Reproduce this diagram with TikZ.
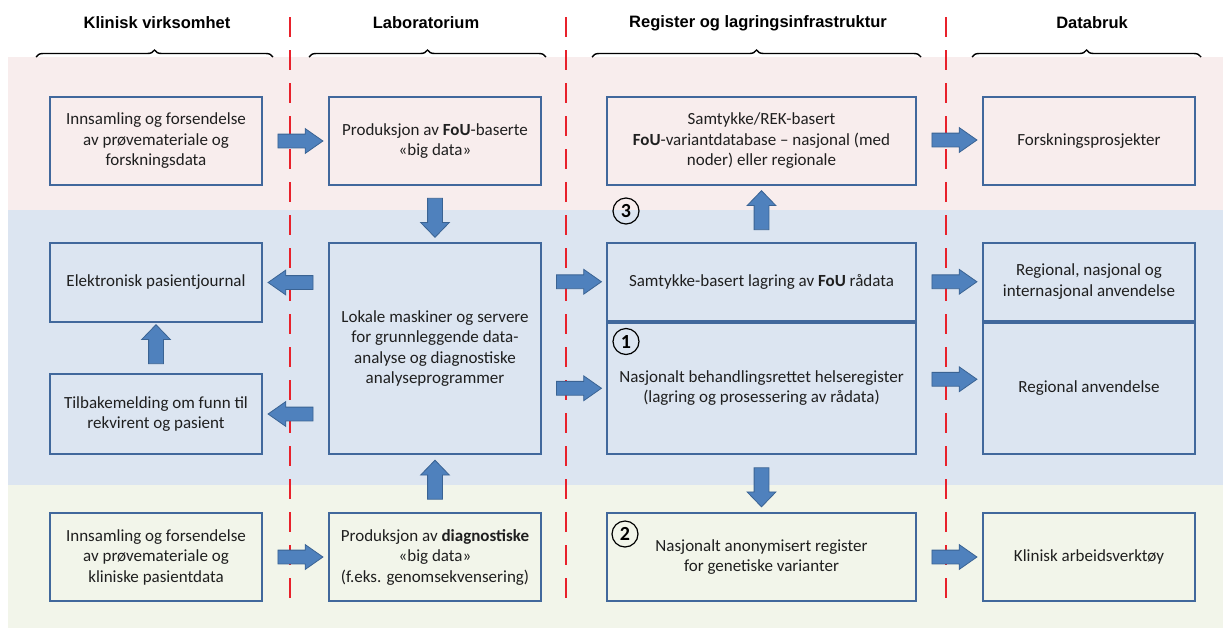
\documentclass[tikz,border=0pt]{standalone}
\usepackage{fontspec}
\setmainfont{Carlito}
\newfontfamily\headfont{Liberation Sans}
\usetikzlibrary{shapes.arrows,decorations.pathreplacing,calc}
\definecolor{pinkbg}{HTML}{F8EDED}
\definecolor{bluebg}{HTML}{DCE5F1}
\definecolor{greenbg}{HTML}{F2F5EA}
\definecolor{boxline}{HTML}{41689C}
\definecolor{arrowfill}{HTML}{4F81BD}
\definecolor{arrowline}{HTML}{3A6393}
\definecolor{dashred}{HTML}{E8212B}
\tikzset{
  box/.style={draw=boxline, line width=2pt, align=center, inner sep=0pt,
    font=\fontsize{17}{20.5}\selectfont, text=black!88},
  wbox/.style={box, minimum width=212pt},
  cbox/.style={box, minimum width=309pt},
  harrow/.style={single arrow, draw=arrowline, fill=arrowfill, line width=0.8pt,
    inner xsep=0pt, inner ysep=6.5pt, single arrow head extend=5.5pt,
    single arrow tip angle=70, minimum height=45pt},
  varrow/.style={single arrow, draw=arrowline, fill=arrowfill, line width=0.8pt,
    inner xsep=0pt, inner ysep=7pt, single arrow head extend=7pt,
    single arrow tip angle=88, minimum height=39pt},
  numcirc/.style={circle, draw=black, line width=1.2pt, inner sep=0pt,
    minimum size=26pt, font=\fontsize{20}{20}\selectfont\bfseries},
  head/.style={font=\headfont\bfseries\fontsize{16.5}{20}\selectfont},
  dashline/.style={draw=dashred, line width=2.6pt, dash pattern=on 20pt off 13pt},
  bracestyle/.style={draw=black, line width=1.4pt,
    decorate, decoration={brace, amplitude=7pt, aspect=0.5}}
}
\begin{document}
\begin{tikzpicture}[x=1pt, y=-1pt]
\useasboundingbox (0,0) rectangle (1223,630);
% bands
\fill[pinkbg] (8,57) rectangle (1223,210);
\fill[bluebg] (8,210) rectangle (1223,485);
\fill[greenbg] (8,485) rectangle (1223,628);
% dashed separators
\draw[dashline] (290,17) -- (290,603);
\draw[dashline] (566,17) -- (566,603);
\draw[dashline] (946,17) -- (946,603);
% headers
\node[head] (h1) at (157,23) {Klinisk virksomhet};
\node[head] (h2) at (426,23) {Laboratorium};
\node[head] (h3) at (758,23) {Register og lagringsinfrastruktur};
\node[head] (h4) at (1092,23) {Databruk};
% braces
\draw[bracestyle] (36,57) -- (273,57);
\draw[bracestyle] (309,57) -- (546,57);
\draw[bracestyle] (592,57) -- (921,57);
\draw[bracestyle] (972,57) -- (1201,57);
% row 1
\node[wbox, minimum height=88pt] (a1) at (156,141) {Innsamling og forsendelse\\av prøvemateriale og\\forskningsdata};
\node[wbox, minimum height=88pt] (b1) at (435,141) {Produksjon av \textbf{FoU}-baserte\\«big data»};
\node[cbox, minimum height=88pt] (c1) at (761.5,141) {Samtykke/REK-basert\\\textbf{FoU}-variantdatabase – nasjonal (med\\noder) eller regionale};
\node[wbox, minimum height=88pt] (d1) at (1089,141) {Forskningsprosjekter};
% row 2/3
\node[wbox, minimum height=79pt] (a2) at (156,282.5) {Elektronisk pasientjournal};
\node[wbox, minimum height=80pt] (a3) at (156,414) {Tilbakemelding om funn til\\rekvirent og pasient};
\node[wbox, minimum height=211pt] (b2) at (435,348.5) {Lokale maskiner og servere\\for grunnleggende data-\\analyse og diagnostiske\\analyseprogrammer};
\node[cbox, minimum height=77.5pt] (c2) at (761.5,281.75) {Samtykke-basert lagring av \textbf{FoU} rådata};
\node[cbox, minimum height=131.5pt] (c3) at (761.5,388.25) {Nasjonalt behandlingsrettet helseregister\\(lagring og prosessering av rådata)};
\node[wbox, minimum height=77.5pt] (d2) at (1089,281.75) {Regional, nasjonal og\\internasjonal anvendelse};
\node[wbox, minimum height=131.5pt] (d3) at (1089,388.25) {Regional anvendelse};
% row 4
\node[wbox, minimum height=88pt] (a4) at (156,557) {Innsamling og forsendelse\\av prøvemateriale og\\kliniske pasientdata};
\node[wbox, minimum height=88pt] (b4) at (435,557) {Produksjon av \textbf{diagnostiske}\\«big data»\\(f.eks. genomsekvensering)};
\node[cbox, minimum height=88pt] (c4) at (761.5,557) {Nasjonalt anonymisert register\\for genetiske varianter};
\node[wbox, minimum height=88pt] (d4) at (1089,557) {Klinisk arbeidsverktøy};
% numbers
\node[numcirc] (n3) at ($(c1.south west)+(20,25)$) {3};
\node[numcirc] (n1) at ($(c3.north west)+(20,20)$) {1};
\node[numcirc] (n2) at ($(c4.north west)+(19,22)$) {2};
% horizontal arrows
\node[harrow] (ar1) at ($(a1.east)!0.5!(b1.west)$) {};
\node[harrow, rotate=180] (ar2) at ($(a2.east)!0.5!(a2.east -| b2.west)$) {};
\node[harrow, rotate=180] (ar3) at ($(a3.east)!0.5!(a3.east -| b2.west)$) {};
\node[harrow] (ar4) at ($(a4.east)!0.5!(b4.west)$) {};
\node[harrow] (ar5) at ($(c2.west -| b2.east)!0.5!(c2.west)$) {};
\node[harrow] (ar6) at ($(c3.west -| b2.east)!0.5!(c3.west)$) {};
\node[harrow] (ar7) at ($(c1.east)!0.5!(d1.west)+(0,-1)$) {};
\node[harrow] (ar8) at ($(c2.east)!0.5!(d2.west)$) {};
\node[harrow] (ar9) at ($(c3.east)!0.5!(d3.west)+(0,-9)$) {};
\node[harrow] (ar10) at ($(c4.east)!0.5!(d4.west)$) {};
% vertical arrows
\node[varrow, rotate=90] (v1) at ($(a3.north)!0.5!(a2.south)$) {};
\node[varrow, rotate=-90] (v2) at ($(b1.south)!0.5!(b2.north)$) {};
\node[varrow, rotate=90] (v3) at ($(b4.north)!0.5!(b2.south)$) {};
\node[varrow, rotate=90] (v4) at ($(c2.north)!0.5!(c1.south)$) {};
\node[varrow, rotate=-90] (v5) at ($(c3.south)!0.5!(c4.north)$) {};
\end{tikzpicture}
\end{document}
